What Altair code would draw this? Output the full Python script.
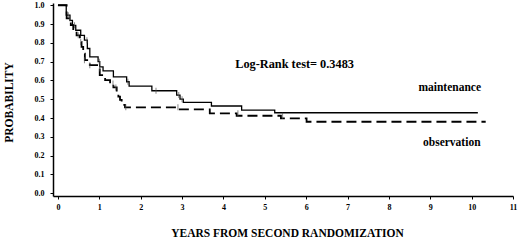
import altair as alt
import pandas as pd

# Kaplan-Meier step data
maint_t = [0, 0.20, 0.29, 0.35, 0.43, 0.55, 0.64, 0.71, 0.77, 0.97, 1.01, 1.09, 1.34, 1.66, 1.72, 2.27, 2.87, 2.95, 3.03, 3.71, 4.44, 5.24, 10.15]
maint_s = [1.0, 0.947, 0.92, 0.893, 0.867, 0.84, 0.814, 0.77, 0.725, 0.70, 0.672, 0.651, 0.619, 0.593, 0.57, 0.545, 0.522, 0.50, 0.483, 0.464, 0.442, 0.428, 0.428]

obs_t = [0, 0.21, 0.31, 0.37, 0.45, 0.53, 0.57, 0.61, 0.65, 0.77, 0.97, 1.01, 1.14, 1.26, 1.34, 1.42, 1.46, 1.50, 1.54, 1.62, 2.89, 3.67, 4.32, 5.39, 6.01, 10.34]
obs_s = [1.0, 0.93, 0.894, 0.867, 0.84, 0.805, 0.779, 0.743, 0.708, 0.681, 0.664, 0.628, 0.602, 0.584, 0.563, 0.54, 0.514, 0.497, 0.47, 0.457, 0.446, 0.425, 0.412, 0.398, 0.38, 0.38]

# censoring marks
maint_cens_t = [0.25, 0.40, 0.70, 1.00, 1.69, 2.37, 2.92, 3.00]
maint_cens_s = [0.947, 0.893, 0.814, 0.70, 0.593, 0.545, 0.522, 0.50]
obs_cens_t = [0.29, 0.49, 0.55, 0.64, 0.77, 1.01, 1.33, 1.40, 1.64, 2.90, 4.35, 5.43]
obs_cens_s = [0.93, 0.84, 0.805, 0.708, 0.681, 0.664, 0.584, 0.563, 0.457, 0.457, 0.425, 0.412]

x_ticks = list(range(0, 12))
y_ticks = [0.0, 0.1, 0.2, 0.3, 0.4, 0.5, 0.6, 0.7, 0.8, 0.9, 1.0]

test_text = ["Log-Rank test= 0.3483"]
test_x = [5.72]
test_y = [0.690]

group_text = ["maintenance", "observation"]
group_x = [9.47, 9.52]
group_y = [0.559, 0.265]

df_m = pd.DataFrame({"t": maint_t, "s": maint_s})
df_o = pd.DataFrame({"t": obs_t, "s": obs_s})
df_cm = pd.DataFrame({"t": maint_cens_t, "s": maint_cens_s})
df_co = pd.DataFrame({"t": obs_cens_t, "s": obs_cens_s})
df_test = pd.DataFrame({"text": test_text, "x": test_x, "y": test_y})
df_grp = pd.DataFrame({"text": group_text, "x": group_x, "y": group_y})

FONT = "Liberation Serif"

xscale = alt.Scale(domain=[-0.12, 11.0], nice=False, zero=False)
yscale = alt.Scale(domain=[-0.015, 1.012], nice=False, zero=False)

xaxis = alt.Axis(
    values=x_ticks, format="d", title="YEARS FROM SECOND RANDOMIZATION",
    grid=False, domainColor="black", domainWidth=1.5, tickColor="black",
    tickSize=3, labelFont=FONT, labelFontSize=8, labelFontWeight="bold",
    labelColor="black", labelPadding=4, titleFont=FONT, titleFontSize=11.5,
    titleFontWeight="bold", titleColor="black", titleX=234, titleY=37,
    titleBaseline="middle", titleAlign="center", labelFlush=False,
    labelOverlap=False,
)
yaxis = alt.Axis(
    values=y_ticks, format=".1f", title="PROBABILITY",
    grid=False, domainColor="black", domainWidth=1.5, tickColor="black",
    tickSize=3, labelFont=FONT, labelFontSize=8, labelFontWeight="bold",
    labelColor="black", labelPadding=6, titleFont=FONT, titleFontSize=11.5,
    titleFontWeight="bold", titleColor="black", titleX=-44, titleY=99,
    titleAngle=-90, titleBaseline="middle", titleAlign="center", labelFlush=False,
    labelOverlap=False,
)


def X(field):
    return alt.X(field, type="quantitative", scale=xscale, axis=xaxis)


def Y(field):
    return alt.Y(field, type="quantitative", scale=yscale, axis=yaxis)


m_line = alt.Chart(df_m).mark_line(interpolate="step-after", color="black", strokeWidth=1.3).encode(
    x=X("t"), y=Y("s"),
)
o_line = alt.Chart(df_o).mark_line(interpolate="step-after", color="black", strokeWidth=1.8, strokeDash=[10, 5]).encode(
    x=X("t"), y=Y("s"),
)
cm = alt.Chart(df_cm).mark_tick(orient="vertical", size=6, thickness=1, color="#555").encode(
    x=X("t"), y=Y("s")
)
co = alt.Chart(df_co).mark_tick(orient="vertical", size=6, thickness=1, color="#555").encode(
    x=X("t"), y=Y("s")
)
txt_test = alt.Chart(df_test).mark_text(font=FONT, fontSize=12.3, fontWeight="bold", color="black", align="center", baseline="middle").encode(
    x=X("x"), y=Y("y"), text="text:N"
)
txt_grp = alt.Chart(df_grp).mark_text(font=FONT, fontSize=11.5, fontWeight="bold", color="black", align="center", baseline="middle").encode(
    x=X("x"), y=Y("y"), text="text:N"
)

chart = alt.layer(m_line, o_line, cm, co, txt_test, txt_grp).properties(
    width=460, height=193,
    autosize=alt.AutoSizeParams(type="none"),
    padding={"left": 53, "top": 3, "right": 7, "bottom": 44},
    background="white",
).configure_view(stroke=None)

chart.save("out.html", embed_options={"renderer": "svg", "actions": False})
